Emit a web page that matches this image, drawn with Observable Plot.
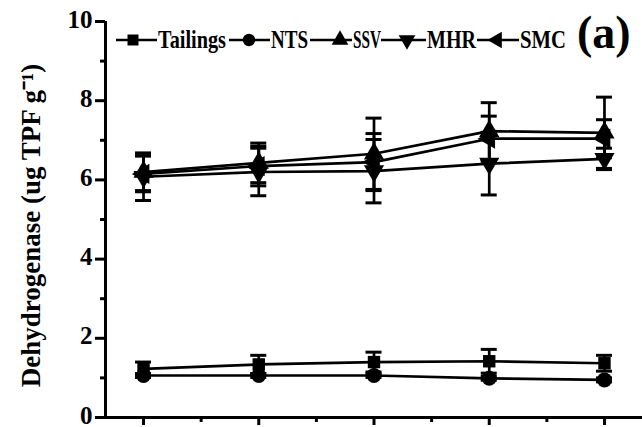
<!DOCTYPE html>
<html>
<head>
<meta charset="utf-8">
<script src="https://cdn.jsdelivr.net/npm/d3@7"></script>
<script src="https://cdn.jsdelivr.net/npm/@observablehq/plot@0.6"></script>
<style>
  html, body { margin: 0; padding: 0; background: #fff; }
  #chart svg { display: block; }
</style>
</head>
<body>
<div id="chart"></div>
<script>
// ---- data ----
const samples = [1, 2, 3, 4, 5];
const seriesNames = ["Tailings", "NTS", "SSV", "MHR", "SMC"];
const tailings = [1.23, 1.34, 1.40, 1.42, 1.37];
const tailingsErr = [0.17, 0.23, 0.25, 0.30, 0.20];
const nts = [1.06, 1.06, 1.06, 0.99, 0.95];
const ntsErr = [0.05, 0.05, 0.05, 0.05, 0.05];
const ssv = [6.20, 6.43, 6.66, 7.23, 7.19];
const ssvErr = [0.47, 0.50, 0.90, 0.72, 0.90];
const mhr = [6.08, 6.20, 6.22, 6.41, 6.53];
const mhrErr = [0.60, 0.60, 0.80, 0.79, 0.27];
const smc = [6.15, 6.35, 6.45, 7.04, 7.04];
const smcErr = [0.45, 0.50, 0.72, 0.57, 0.48];
const yTicks = [0, 2, 4, 6, 8, 10];
const yMinorTicks = [1, 3, 5, 7, 9];
const xMinorTicks = [1.5, 2.5, 3.5, 4.5];
const yLabel = "Dehydrogenase (ug TPF g\u207B\u00B9)";
const panelLabel = "(a)";

// ---- symbols ----
const sqrt3 = Math.sqrt(3);
const triDown = {
  draw(ctx, size) {
    const y = -Math.sqrt(size / (sqrt3 * 3));
    ctx.moveTo(0, -y * 2);
    ctx.lineTo(-sqrt3 * y, y);
    ctx.lineTo(sqrt3 * y, y);
    ctx.closePath();
  }
};
const triLeft = {
  draw(ctx, size) {
    const y = -Math.sqrt(size / (sqrt3 * 3));
    ctx.moveTo(y * 2, 0);
    ctx.lineTo(-y, -sqrt3 * y);
    ctx.lineTo(-y, sqrt3 * y);
    ctx.closePath();
  }
};
const symbols = {
  Tailings: d3.symbolSquare,
  NTS: d3.symbolCircle,
  SSV: d3.symbolTriangle,
  MHR: triDown,
  SMC: triLeft
};
const symR = { Tailings: 7, NTS: 7.5, SSV: 7.5, MHR: 7.5, SMC: 7.5 };

const valuesBy = { Tailings: tailings, NTS: nts, SSV: ssv, MHR: mhr, SMC: smc };
const errBy = { Tailings: tailingsErr, NTS: ntsErr, SSV: ssvErr, MHR: mhrErr, SMC: smcErr };

const rows = seriesNames.flatMap(name =>
  samples.map((s, i) => ({ series: name, x: s, y: valuesBy[name][i], e: errBy[name][i] }))
);

const font = "'Liberation Serif', 'Times New Roman', serif";
const xMin = 0.67, xMax = 5.33;

const plot = Plot.plot({
  width: 642,
  height: 427,
  marginLeft: 105,
  marginRight: 0,
  marginTop: 21,
  marginBottom: 10,
  style: { fontFamily: font, background: "white", color: "black" },
  x: { domain: [xMin, xMax] },
  y: { domain: [0, 10] },
  marks: [
    Plot.axisY({ ticks: yTicks, tickSize: 10, strokeWidth: 3, tickFormat: () => "", label: null }),
    Plot.axisY({ ticks: yMinorTicks, tickSize: 5, strokeWidth: 3, tickFormat: () => "", label: null }),
    Plot.text(yTicks, { x: xMin, y: d => d, text: d => String(d), dx: -13, dy: -2, textAnchor: "end", fontSize: 25, fontWeight: "bold", fill: "black" }),
    Plot.axisX({ ticks: samples, tickSize: 8, strokeWidth: 3, tickFormat: () => "", label: null }),
    Plot.axisX({ ticks: xMinorTicks, tickSize: 5, strokeWidth: 3, tickFormat: () => "", label: null }),
    Plot.ruleY([0], { x1: xMin, x2: xMax, strokeWidth: 3 }),
    Plot.ruleX([xMin], { y1: 0, y2: 10, strokeWidth: 3 }),
    Plot.text([yLabel], { frameAnchor: "left", textAnchor: "middle", rotate: -90, dx: -74, dy: 6, fontSize: 27, fontWeight: "bold", fill: "black", text: d => d }),
    Plot.line(rows, { x: "x", y: "y", z: "series", stroke: "black", strokeWidth: 2.7 }),
    Plot.ruleX(rows, { x: "x", y1: d => d.y - d.e, y2: d => d.y + d.e, stroke: "black", strokeWidth: 2.7 }),
    Plot.ruleY(rows, { y: d => d.y + d.e, x1: "x", x2: "x", insetLeft: -8, insetRight: -8, stroke: "black", strokeWidth: 3 }),
    Plot.ruleY(rows, { y: d => d.y - d.e, x1: "x", x2: "x", insetLeft: -8, insetRight: -8, stroke: "black", strokeWidth: 3 }),
    ...seriesNames.map(name =>
      Plot.dot(rows.filter(d => d.series === name), { x: "x", y: "y", symbol: symbols[name], r: symR[name], fill: "black", stroke: "none" })
    )
  ]
});
document.getElementById("chart").appendChild(plot);

// ---- legend (inside plot, top) ----
const legendY = 40;
const legendItems = [
  { name: "Tailings", seg: [116, 157], mx: 133, tx: 157, tw: 70 },
  { name: "NTS", seg: [229, 270], mx: 249, tx: 270, tw: 39 },
  { name: "SSV", seg: [310, 352], mx: 340, tx: 352, tw: 30 },
  { name: "MHR", seg: [381, 426], mx: 407, tx: 426, tw: 51 },
  { name: "SMC", seg: [477, 519], mx: 497, tx: 519, tw: 48 }
];
const svg = d3.select(plot);
const lg = svg.append("g").attr("font-family", font).attr("font-weight", "bold").attr("text-anchor", "start");
legendItems.forEach(it => {
  lg.append("line").attr("x1", it.seg[0]).attr("x2", it.seg[1]).attr("y1", legendY).attr("y2", legendY)
    .attr("stroke", "black").attr("stroke-width", 2.7);
  lg.append("path").attr("transform", `translate(${it.mx},${legendY})`)
    .attr("d", d3.symbol(symbols[it.name], Math.PI * 6.2 * 6.2)()).attr("fill", "black");
  lg.append("text").attr("x", it.tx + 1).attr("y", legendY + 8).attr("font-size", 25)
    .attr("textLength", it.tw - 2).attr("lengthAdjust", "spacingAndGlyphs").text(it.name);
});
lg.append("text").attr("x", 577).attr("y", 48).attr("font-size", 46).text(panelLabel);
</script>
</body>
</html>
